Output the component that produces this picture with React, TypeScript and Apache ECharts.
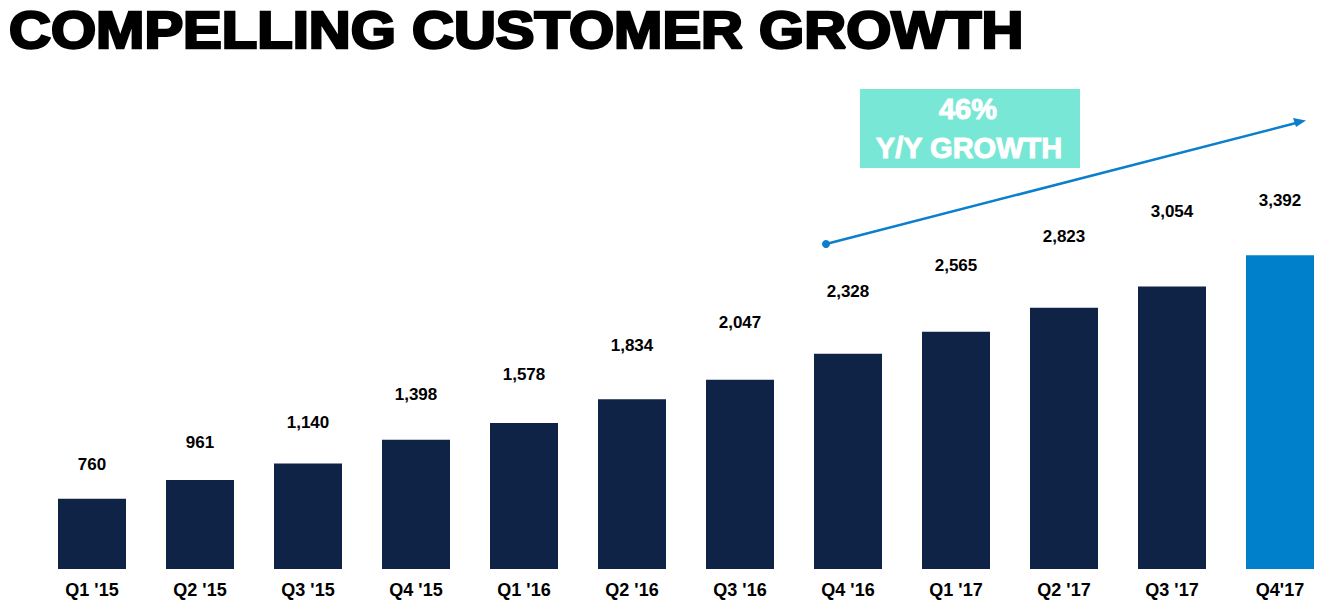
import React, { useEffect, useRef } from "react";
import * as echarts from "echarts";

const categories = ["Q1 '15", "Q2 '15", "Q3 '15", "Q4 '15", "Q1 '16", "Q2 '16", "Q3 '16", "Q4 '16", "Q1 '17", "Q2 '17", "Q3 '17", "Q4'17"];
const customers = [760, 961, 1140, 1398, 1578, 1834, 2047, 2328, 2565, 2823, 3054, 3392];
const highlightIndex = 11;
const titleText = "COMPELLING CUSTOMER GROWTH";
const growthLines = ["46%", "Y/Y GROWTH"];

const NAVY = "#0F2346";
const BLUE = "#0080CB";
const ARROW = "#0B7FCC";
const TEAL = "#79E7D6";
const FONT = "'Liberation Sans', Arial, sans-serif";

export default function App() {
  const ref = useRef<HTMLDivElement>(null);
  useEffect(() => {
    if (!ref.current) return;
    const chart = echarts.init(ref.current, undefined, { renderer: "svg" });
    const data = customers.map((v, i) => ({
      value: v,
      itemStyle: { color: i === highlightIndex ? BLUE : NAVY },
      label: { distance: i === highlightIndex ? 46 : Math.round(12 + 0.018 * v) },
    }));
    chart.setOption({
      animation: false,
      backgroundColor: "#ffffff",
      grid: { left: 38, right: 0, top: 106.5, bottom: 45 },
      xAxis: {
        type: "category",
        data: categories,
        axisLine: { show: false },
        axisTick: { show: false },
        axisLabel: {
          margin: 12,
          fontFamily: FONT,
          fontSize: 18,
          fontWeight: "bold",
          color: "#000",
          interval: 0,
        },
      },
      yAxis: { type: "value", min: 0, max: 5000, show: false, splitLine: { show: false } },
      series: [
        {
          type: "bar",
          data,
          barWidth: 68,
          label: {
            show: true,
            position: "top",
            fontFamily: FONT,
            fontSize: 17,
            fontWeight: "bold",
            color: "#000",
            formatter: (p: any) => Number(p.value).toLocaleString("en-US"),
          },
        },
      ],
      graphic: [
        {
          type: "text",
          x: 9,
          y: 31,
          scaleX: 1.138,
          style: {
            text: titleText,
            fill: "#000",
            stroke: "#000",
            lineWidth: 2.5,
            font: `900 51px ${FONT}`,
            align: "left",
            verticalAlign: "middle",
          },
        },
        { type: "rect", shape: { x: 860, y: 89, width: 220, height: 79 }, style: { fill: TEAL } },
        {
          type: "text",
          x: 968,
          y: 109,
          style: { text: growthLines[0], fill: "#fff", stroke: "#fff", lineWidth: 1, font: `bold 29px ${FONT}`, align: "center", verticalAlign: "middle" },
        },
        {
          type: "text",
          x: 969,
          y: 148,
          style: { text: growthLines[1], fill: "#fff", stroke: "#fff", lineWidth: 1, font: `bold 29px ${FONT}`, align: "center", verticalAlign: "middle" },
        },
        { type: "line", shape: { x1: 826, y1: 244, x2: 1296, y2: 123 }, style: { stroke: ARROW, lineWidth: 2.5 } },
        { type: "circle", shape: { cx: 826, cy: 244, r: 4 }, style: { fill: ARROW } },
        {
          type: "polygon",
          shape: { points: [[1306, 120.5], [1293, 118], [1296, 127]] },
          style: { fill: ARROW },
        },
      ],
    });
    return () => chart.dispose();
  }, []);
  return <div ref={ref} style={{ position: "fixed", left: 0, top: 0, width: 1334, height: 614 }} />;
}
